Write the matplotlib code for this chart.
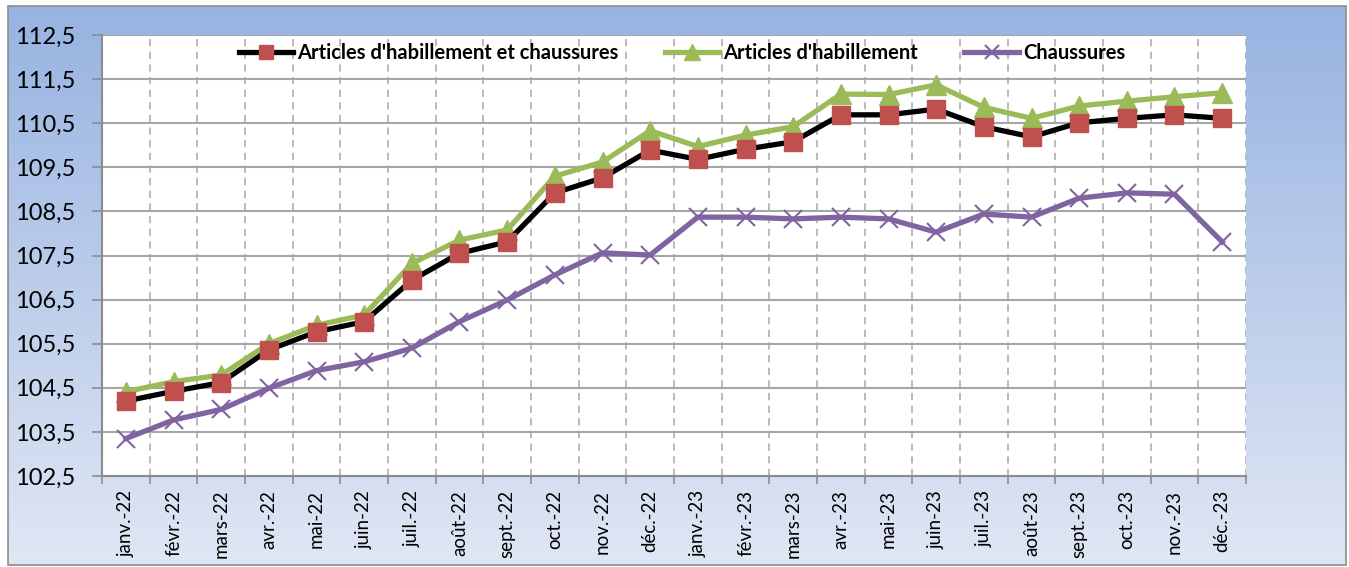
import numpy as np
import matplotlib
matplotlib.use("Agg")
import matplotlib.pyplot as plt
from matplotlib.patches import Rectangle

months = ["janv.-22", "févr.-22", "mars-22", "avr.-22", "mai-22", "juin-22",
          "juil.-22", "août-22", "sept.-22", "oct.-22", "nov.-22", "déc.-22",
          "janv.-23", "févr.-23", "mars-23", "avr.-23", "mai-23", "juin-23",
          "juil.-23", "août-23", "sept.-23", "oct.-23", "nov.-23", "déc.-23"]

total = [104.2, 104.42, 104.62, 105.36, 105.77, 106.0,
         106.94, 107.55, 107.81, 108.92, 109.26, 109.89,
         109.68, 109.91, 110.08, 110.69, 110.69, 110.82,
         110.42, 110.19, 110.51, 110.61, 110.69, 110.61]

habillement = [104.41, 104.64, 104.79, 105.5, 105.92, 106.15,
               107.32, 107.85, 108.08, 109.3, 109.62, 110.33,
               109.97, 110.23, 110.42, 111.16, 111.15, 111.37,
               110.86, 110.61, 110.89, 111.0, 111.1, 111.19]

chaussures = [103.35, 103.77, 104.01, 104.49, 104.89, 105.09,
              105.40, 106.0, 106.49, 107.06, 107.56, 107.51,
              108.37, 108.37, 108.33, 108.37, 108.33, 108.03,
              108.44, 108.37, 108.8, 108.92, 108.89, 107.81]

y_ticks = [102.5, 103.5, 104.5, 105.5, 106.5, 107.5, 108.5, 109.5, 110.5, 111.5, 112.5]
y_labels = ["102,5", "103,5", "104,5", "105,5", "106,5", "107,5", "108,5", "109,5", "110,5", "111,5", "112,5"]

series_names = ["Articles d'habillement et chaussures", "Articles d'habillement", "Chaussures"]

plt.rcParams['font.family'] = ['Lato', 'DejaVu Sans']

W, H = 1349, 567
fig = plt.figure(figsize=(W / 100, H / 100), dpi=100)

# background gradient inside the outer frame
bg = fig.add_axes([0, 0, 1, 1], zorder=-10)
bg.set_xlim(0, W)
bg.set_ylim(H, 0)
bg.axis("off")
top_c = np.array([0x97, 0xB3, 0xE1]) / 255
bot_c = np.array([0xE0, 0xE7, 0xF4]) / 255
t = np.linspace(0, 1, 256)[:, None]
grad = top_c[None, None, :] * (1 - t[..., None]) + bot_c[None, None, :] * t[..., None]
grad = np.repeat(grad, 2, axis=1)
bg.imshow(grad, extent=[8, 1346, 565, 6], aspect="auto", interpolation="bilinear")
bg.add_patch(Rectangle((8, 6), 1338, 559, fill=False, edgecolor="#8c8c8c", lw=1.2))

ax = fig.add_axes([102 / W, 1 - 476 / H, (1246 - 102) / W, (476 - 35) / H])
ax.set_facecolor("white")
x = np.arange(len(months))

ax.plot(x, total, color="black", lw=3.8, marker="s", ms=13, mfc="#C0504D",
        mec="#C0504D", label=series_names[0], zorder=4)
ax.plot(x, habillement, color="#9BBB59", lw=3.8, marker="^", ms=14, mfc="#9BBB59",
        mec="#9BBB59", label=series_names[1], zorder=3)
ax.plot(x, chaussures, color="#8064A2", lw=3.8, marker="x", ms=13, mew=1.5,
        mec="#8064A2", label=series_names[2], zorder=3)

ax.set_xlim(-0.5, len(months) - 0.5)
ax.set_ylim(102.5, 112.5)
ax.set_yticks(y_ticks)
ax.set_yticklabels(y_labels, fontsize=17)
ax.set_xticks(x)
ax.set_xticklabels(months, rotation=90, fontsize=13.5)
ax.set_xticks(np.arange(len(months) + 1) - 0.5, minor=True)
ax.tick_params(axis="x", which="major", length=0, pad=10)
ax.tick_params(axis="x", which="minor", length=6, color="#8c8c8c", width=1.2)
ax.tick_params(axis="y", length=7, color="#8c8c8c", width=1.2, pad=12)

ax.grid(axis="y", which="major", color="#a6a6a6", lw=1.5, ls="-", zorder=0)
ax.grid(axis="x", which="minor", color="#b4b4b4", lw=1.3, ls=(0, (4, 3)), zorder=0)
ax.set_axisbelow(True)

for s in ["left", "bottom"]:
    ax.spines[s].set_color("#8c8c8c")
    ax.spines[s].set_linewidth(1.5)
ax.spines["top"].set_visible(False)
ax.spines["right"].set_visible(False)

leg = ax.legend(loc="upper center", bbox_to_anchor=(0.507, 1.0), ncol=3, frameon=False,
                prop={"weight": "bold", "size": 14.5}, handlelength=2.7, columnspacing=2.3,
                handletextpad=0.2, borderaxespad=0.0, markerscale=0.8)

fig.savefig("out.png", dpi=100)
